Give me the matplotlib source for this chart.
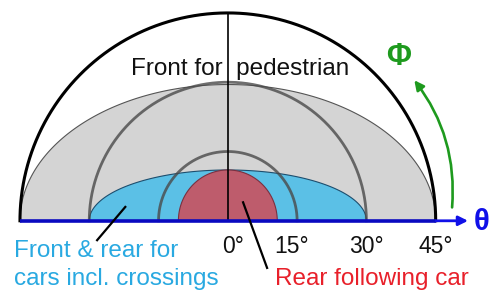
import numpy as np
import matplotlib
matplotlib.use("Agg")
import matplotlib.pyplot as plt
from matplotlib.patches import FancyArrowPatch

plt.rcParams["font.family"] = ["Liberation Sans", "DejaVu Sans"]

# angles in degrees (theta along the base, phi upward)
ring_angles = [15, 30, 45]
tick_labels = ["0°", "15°", "30°", "45°"]
tick_values = [0, 15, 30, 45]

# regions: (half-width theta, height phi)
ped_region = (45, 29.5)     # front for pedestrian
car_region = (30, 11.0)     # front & rear for cars incl. crossings
rear_region = (10.7, 11.0)  # rear following car

GRAY_FILL, BLUE_FILL, RED_FILL = "#D4D4D4", "#5BC0E6", "#BE5C6C"
BLUE_TXT, RED_TXT, GREEN = "#29A9E1", "#E8202A", "#1E9A1E"
ARC = "#4A4A4A"

fig = plt.figure(figsize=(4.94, 2.91), dpi=100)
ax = fig.add_axes([0, 0, 1, 1])
ax.set_xlim(-49.3, 57.6)
ax.set_ylim(-15.2, 47.8)
ax.set_aspect("equal")
ax.axis("off")

t = np.linspace(0, np.pi, 300)

# filled regions (upper half-ellipses)
for (w, h), fc, ec, z in [(ped_region, GRAY_FILL, "#555555", 1),
                          (car_region, BLUE_FILL, "#1D4E6E", 2),
                          (rear_region, RED_FILL, "#7A3040", 3)]:
    ax.fill(w * np.cos(t), h * np.sin(t), facecolor=fc, edgecolor=ec,
            linewidth=0.8, zorder=z)

# angle rings
for r in ring_angles:
    if r == ring_angles[-1]:
        ax.plot(r * np.cos(t), r * np.sin(t), color="black", linewidth=2.2, zorder=5)
    else:
        ax.plot(r * np.cos(t), r * np.sin(t), color=ARC, linewidth=2.0,
                alpha=0.8, zorder=4)
ax.plot([0, 0], [0, ring_angles[-1]], color="black", linewidth=1.4, alpha=0.85, zorder=4)

# base line + theta arrow
ax.plot([-45, 45], [0, 0], color="#0A0AC0", linewidth=2.6, zorder=6,
        solid_capstyle="butt")
ax.add_patch(FancyArrowPatch((44.5, 0), (52.6, 0), arrowstyle="-|>",
                             mutation_scale=14, color="#1010E8",
                             linewidth=2.0, zorder=6))
ax.text(53.2, -0.3, "θ", color="#1010E8", fontsize=21, fontweight="bold",
        ha="left", va="center", zorder=8)

# phi arrow
ax.add_patch(FancyArrowPatch((48.5, 2.3), (40.0, 30.9), arrowstyle="-|>",
                             connectionstyle="arc3,rad=0.2", mutation_scale=14,
                             color=GREEN, linewidth=1.9, zorder=6))
ax.text(36.9, 35.4, "Φ", color=GREEN, fontsize=22, fontweight="bold",
        ha="center", va="center", zorder=8)

# tick labels
nudge = [1.2, -1.2, 0, 0]
for v, lab, dx in zip(tick_values, tick_labels, nudge):
    ax.text(v + dx, -7.0, lab, fontsize=16.5, ha="center", va="baseline",
            color="#111111", zorder=8)

# region labels
ax.text(-21.0, 31.5, "Front for  pedestrian", fontsize=17.5, ha="left",
        va="baseline", color="#111111", zorder=8)
ax.text(-46.3, -7.9, "Front & rear for", fontsize=17.5, ha="left",
        va="baseline", color=BLUE_TXT, zorder=8)
ax.text(-46.3, -13.9, "cars incl. crossings", fontsize=17.5, ha="left",
        va="baseline", color=BLUE_TXT, zorder=8)
ax.text(10.2, -13.9, "Rear following car", fontsize=17.5, ha="left",
        va="baseline", color=RED_TXT, zorder=8)

# leader lines
ax.plot([-28.3, -22.2], [-4.2, 3.0], color="black", linewidth=1.6, zorder=7)
ax.plot([3.3, 8.5], [4.0, -10.2], color="black", linewidth=1.6, zorder=7)

fig.savefig("out.png", dpi=100)
